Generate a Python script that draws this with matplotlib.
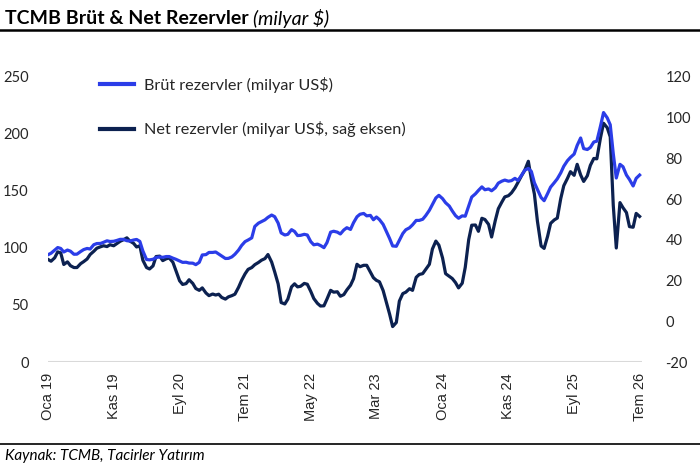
import matplotlib
matplotlib.use("Agg")
import matplotlib.pyplot as plt
import pandas as pd

# yarım aylık veri, Ocak 2019 - Temmuz 2026
dates = pd.date_range("2019-01-01", periods=181, freq="SMS")

brut = [
    94.1, 95.4, 98.2, 100.4, 99.6, 96.5, 98.2, 97.2, 94.5, 94.6,
    96.9, 98.6, 99.6, 99.1, 102.9, 103.9, 104.0, 105.0, 106.3, 105.7,
    105.9, 106.6, 107.6, 107.6, 106.4, 106.1, 107.0, 107.5, 105.8, 97.4,
    89.9, 89.6, 90.1, 91.6, 92.2, 91.8, 92.5, 92.5, 91.1, 90.1,
    88.6, 87.4, 87.5, 86.8, 86.7, 85.4, 87.4, 93.9, 94.2, 96.1,
    96.1, 96.5, 94.7, 92.8, 90.8, 90.9, 92.2, 94.5, 98.2, 102.2,
    105.6, 107.0, 108.9, 118.9, 121.8, 123.2, 124.7, 126.9, 128.9, 127.5,
    121.9, 113.2, 111.4, 112.0, 116.1, 114.5, 110.9, 111.1, 112.0, 111.4,
    105.6, 102.8, 103.4, 102.2, 100.3, 104.7, 113.9, 114.7, 113.9, 112.3,
    115.8, 117.8, 116.3, 122.2, 127.4, 129.6, 130.3, 128.2, 128.6, 124.8,
    127.2, 124.9, 120.7, 114.9, 108.3, 101.8, 101.5, 106.8, 112.7, 116.0,
    117.7, 120.3, 124.2, 124.2, 125.2, 128.4, 133.1, 138.2, 143.9, 146.2,
    143.3, 139.7, 136.8, 132.5, 128.4, 126.1, 128.2, 127.9, 136.8, 144.7,
    147.5, 150.5, 153.6, 151.1, 151.8, 150.2, 152.8, 156.9, 158.6, 159.6,
    158.6, 159.1, 161.1, 159.2, 163.9, 168.2, 169.8, 167.1, 157.2, 151.3,
    144.3, 141.5, 147.7, 153.4, 157.3, 160.7, 165.9, 171.7, 176.6, 179.5,
    182.4, 190.0, 196.5, 187.2, 186.4, 188.2, 193.0, 193.7, 207.0, 218.8,
    214.2, 208.1, 182.8, 161.4, 173.4, 171.3, 164.0, 160.1, 154.4, 161.1,
    164.0,
]

net = [
    30.4, 29.5, 31.2, 34.1, 33.6, 27.9, 29.2, 27.3, 26.4, 26.4,
    28.3, 29.3, 30.6, 32.8, 34.4, 35.9, 36.6, 37.1, 36.7, 37.6,
    37.1, 38.1, 39.3, 40.0, 41.0, 39.4, 38.3, 36.5, 37.1, 30.0,
    26.4, 25.7, 27.2, 31.8, 32.0, 29.8, 30.7, 31.1, 29.0, 24.9,
    19.9, 18.1, 18.5, 20.4, 18.6, 16.1, 15.2, 16.4, 13.9, 12.6,
    13.4, 12.9, 13.3, 11.7, 10.9, 12.0, 12.6, 13.3, 16.7, 20.1,
    23.3, 25.5, 26.4, 27.8, 28.9, 30.0, 30.8, 32.8, 29.1, 24.3,
    18.4, 9.2, 8.5, 10.9, 16.9, 18.4, 16.9, 17.2, 18.6, 18.2,
    14.7, 11.2, 8.8, 7.5, 7.6, 10.9, 15.2, 14.3, 14.5, 12.3,
    13.1, 15.4, 17.7, 20.9, 28.0, 26.8, 27.5, 27.5, 24.1, 21.4,
    20.1, 19.4, 15.1, 9.6, 3.5, -2.6, -0.6, 9.9, 13.6, 14.3,
    16.0, 15.2, 21.6, 23.0, 23.4, 25.5, 28.0, 35.5, 39.4, 37.4,
    31.1, 23.4, 22.1, 21.0, 19.0, 16.4, 18.7, 26.5, 40.1, 47.2,
    47.3, 44.2, 50.6, 50.0, 47.6, 41.4, 49.5, 55.3, 58.5, 61.1,
    61.7, 63.1, 65.5, 68.2, 71.6, 74.1, 78.6, 69.8, 62.5, 49.2,
    37.0, 35.8, 41.7, 48.1, 49.8, 50.7, 60.3, 66.6, 70.2, 73.5,
    71.7, 77.1, 71.9, 68.7, 71.5, 76.6, 80.0, 79.8, 90.2, 97.3,
    95.1, 90.6, 57.0, 36.0, 58.3, 55.8, 53.4, 46.5, 46.2, 53.0,
    51.5,
]

tick_dates = pd.to_datetime([
    "2019-01-01", "2019-11-01", "2020-09-01", "2021-07-01", "2022-05-01",
    "2023-03-01", "2024-01-01", "2024-11-01", "2025-09-01", "2026-07-01",
])
tick_labels = ["Oca 19", "Kas 19", "Eyl 20", "Tem 21", "May 22",
               "Mar 23", "Oca 24", "Kas 24", "Eyl 25", "Tem 26"]

left_ticks = [0, 50, 100, 150, 200, 250]
right_ticks = [-20, 0, 20, 40, 60, 80, 100, 120]

blue = "#2B3DE8"
navy = "#0C2150"
txt = "#262626"
fnt = ["Lato", "DejaVu Sans"]

fig = plt.figure(figsize=(7, 4.67), dpi=100)
ax = fig.add_axes([48 / 700, 1 - 362 / 467, 594 / 700, 285 / 467])
ax2 = ax.twinx()

l1, = ax.plot(dates, brut, color=blue, lw=2.3, solid_joinstyle="round", zorder=3)
l2, = ax2.plot(dates, net, color=navy, lw=2.3, solid_joinstyle="round", zorder=3)

ax.set_ylim(0, 250)
ax2.set_ylim(-20, 120)
ax.set_xlim(pd.Timestamp("2019-01-01"), pd.Timestamp("2026-07-12"))
ax.axhline(0, color="#d9d9d9", lw=1.5, zorder=1)

ax.set_yticks(left_ticks)
ax.set_yticklabels([str(v) for v in left_ticks], family=fnt, fontsize=10.5, color=txt)
ax2.set_yticks(right_ticks)
ax2.set_yticklabels([str(v) for v in right_ticks], family=fnt, fontsize=10.5, color=txt)
ax.set_xticks(tick_dates)
ax.set_xticklabels(tick_labels, rotation=90, family=["Liberation Sans", "DejaVu Sans"],
                   fontsize=10.5, color=txt, va="top", ha="center")

ax.tick_params(axis="y", length=0, pad=14)
ax2.tick_params(axis="y", length=0, pad=17)
ax.tick_params(axis="x", length=0, pad=8)
for a in (ax, ax2):
    for s in a.spines.values():
        s.set_visible(False)
ax.set_zorder(ax2.get_zorder() + 1)
ax.patch.set_visible(False)

leg = ax.legend([l1, l2], ["Brüt rezervler (milyar US$)",
                           "Net rezervler (milyar US$, sağ eksen)"],
                loc="upper left", bbox_to_anchor=(0.0875, 1.0), frameon=False,
                borderpad=0, borderaxespad=0, handlelength=2.1, handletextpad=0.6,
                labelspacing=1.75, prop={"family": fnt, "size": 11.7})
for t in leg.get_texts():
    t.set_color(txt)
for h in leg.get_lines():
    h.set_linewidth(3)

# başlık: kalın + italik kısım
t1 = fig.text(5 / 700, 1 - 18 / 467, "TCMB Brüt & Net Rezervler", family=fnt,
              fontsize=14, fontweight="bold", va="center", ha="left", color="black")
r = fig.canvas.get_renderer()
bb = t1.get_window_extent(renderer=r)
fig.text(bb.x1 / 700 + 4 / 700, 1 - 18 / 467, "(milyar $)", family=fnt, fontsize=14,
         style="italic", va="center", ha="left", color="black")

fig.add_artist(plt.Line2D([0, 1], [1 - 30 / 467, 1 - 30 / 467], color="black", lw=1.8,
                          transform=fig.transFigure))
fig.add_artist(plt.Line2D([0, 1], [1 - 444 / 467, 1 - 444 / 467], color="black", lw=1.2,
                          transform=fig.transFigure))
fig.text(5 / 700, 1 - 456 / 467, "Kaynak: TCMB, Tacirler Yatırım", family=fnt,
         fontsize=11, style="italic", va="center", ha="left", color="black")

fig.savefig("out.png", dpi=100)
